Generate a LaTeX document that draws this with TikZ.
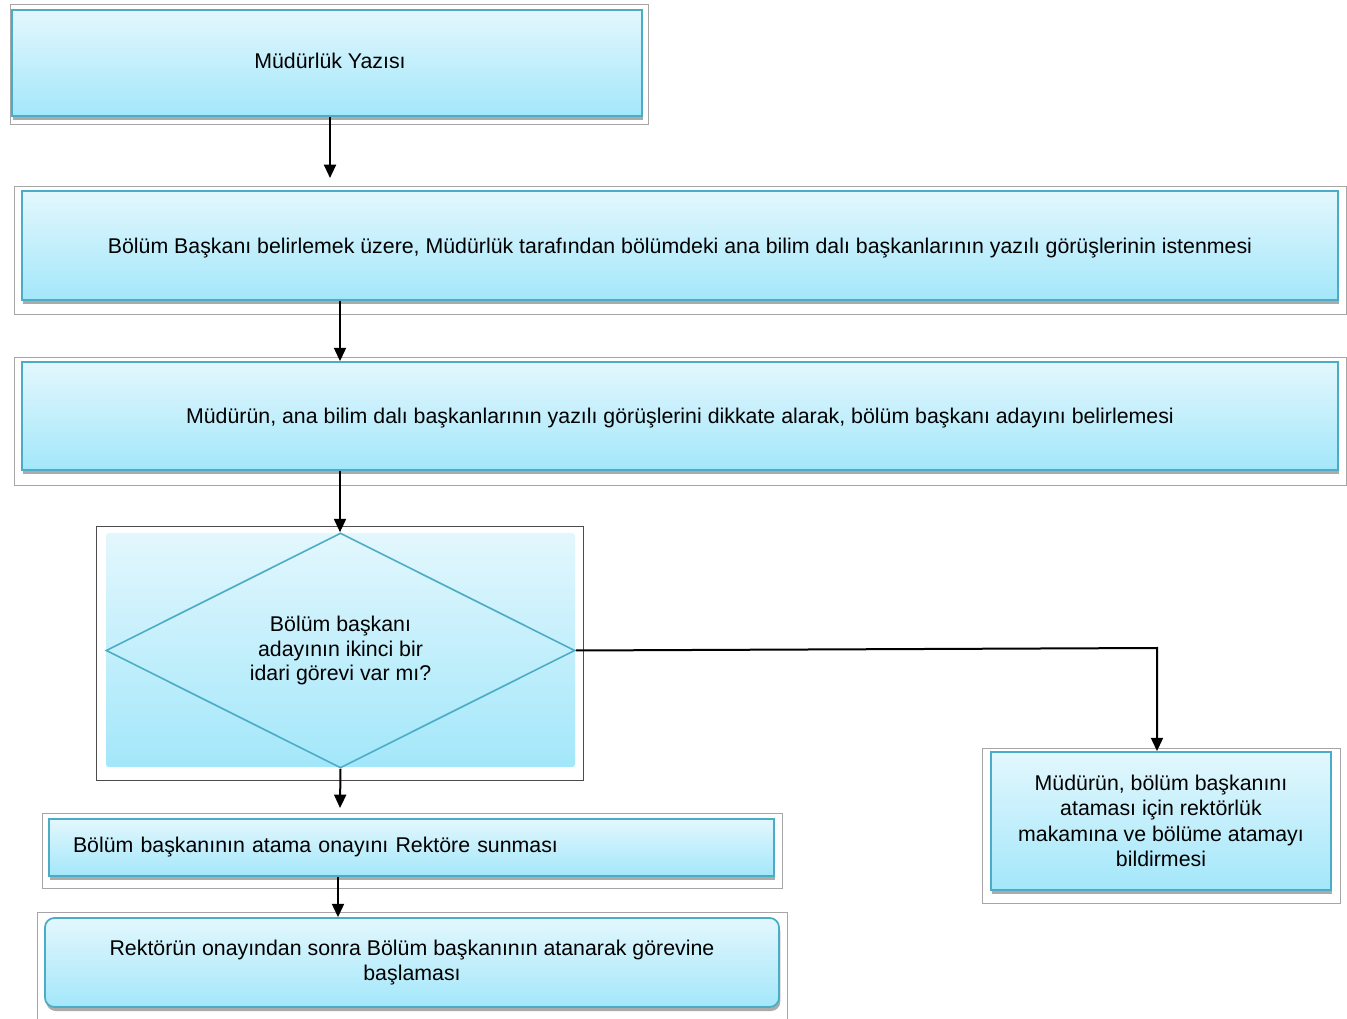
\documentclass[tikz,border=0pt]{standalone}
\usepackage{fontspec}
\setmainfont{Liberation Sans}
\usetikzlibrary{shapes.geometric,arrows.meta,shadows}
\definecolor{teal1}{HTML}{4BACC6}
\definecolor{topc}{HTML}{E3F7FD}
\definecolor{botc}{HTML}{A3E7FA}
\tikzset{
  procbox/.style={draw=teal1, line width=1.3pt, top color=topc, bottom color=botc,
    drop shadow={shadow xshift=1pt, shadow yshift=-3pt, fill=black!55, opacity=0.6},
    inner sep=0pt, font=\fontsize{16pt}{19pt}\selectfont, align=center},
  frame/.style={draw=black!35, line width=0.6pt},
  conn/.style={draw=black, line width=1.5pt, -{Triangle[width=9pt,length=10pt]}},
}
\begin{document}
\begin{tikzpicture}[x=0.75pt,y=-0.75pt]
\useasboundingbox[fill=white] (0,0) rectangle (1347,1019);
% frames
\draw[frame] (10,4) rectangle (648,124);
\draw[frame] (14,186) rectangle (1346,314);
\draw[frame] (14,357) rectangle (1346,485);
\draw[draw=black!70, line width=0.6pt] (96,526) rectangle (583,780);
\draw[frame] (42,813) rectangle (782,888);
\draw[frame] (37,912) rectangle (787,1019);
\draw[frame] (982,748) rectangle (1340,903);
% boxes
\node[procbox, minimum width=472.5pt, minimum height=79.5pt] (b1) at (327,63) {};
\node[font=\fontsize{16pt}{19pt}\selectfont] at (330,61) {Müdürlük Yazısı};
\node[procbox, minimum width=987pt, minimum height=81.75pt] (b2) at (680,245.5) {};
\node[font=\fontsize{16pt}{19pt}\selectfont] at (680,248) {Bölüm Başkanı belirlemek üzere, Müdürlük tarafından bölümdeki ana bilim dalı başkanlarının yazılı görüşlerinin istenmesi};
\node[procbox, minimum width=987pt, minimum height=81pt] (b3) at (680,416) {};
\node[font=\fontsize{16pt}{19pt}\selectfont] at (680,418.5) {Müdürün, ana bilim dalı başkanlarının yazılı görüşlerini dikkate alarak, bölüm başkanı adayını belirlemesi};
\node[draw=none, top color=topc, bottom color=botc, minimum width=351.75pt, minimum height=175.5pt, inner sep=0pt, rounded corners=2pt] (dbg) at (340.5,650) {};
\node[diamond, draw=teal1, line width=1.2pt, minimum width=351.75pt, minimum height=176.25pt, inner sep=0pt, aspect=2, align=center, font=\fontsize{16pt}{18.5pt}\selectfont] (d) at (340.5,650.5) {Bölüm başkanı\\adayının ikinci bir\\idari görevi var mı?};
\node[procbox, minimum width=543.75pt, minimum height=42.75pt, text width=507.75pt, align=left] (b5) at (411.5,847.5) {Bölüm başkanının atama onayını Rektöre sunması};
\node[procbox, rounded corners=7pt, minimum width=550.5pt, minimum height=66.75pt] (b6) at (412,962.5) {Rektörün onayından sonra Bölüm başkanının atanarak görevine\\başlaması};
\node[procbox, minimum width=255pt, minimum height=103.5pt] (b7) at (1161,821) {Müdürün, bölüm başkanını\\ataması için rektörlük\\makamına ve bölüme atamayı\\bildirmesi};
% connectors
\draw[conn] (b1.south -| 330,0) -- (330,178);
\draw[conn] (b2.south -| 340,0) -- (b3.north -| 340,0);
\draw[conn] (b3.south -| 340,0) -- (d.north -| 340,0);
\draw[conn] (d.south) -- (340,808);
\draw[conn] (b5.south -| 338,0) -- (b6.north -| 338,0);
\draw[conn] (d.east) -- (1157,648) -- (b7.north -| 1157,0);
\end{tikzpicture}
\end{document}
